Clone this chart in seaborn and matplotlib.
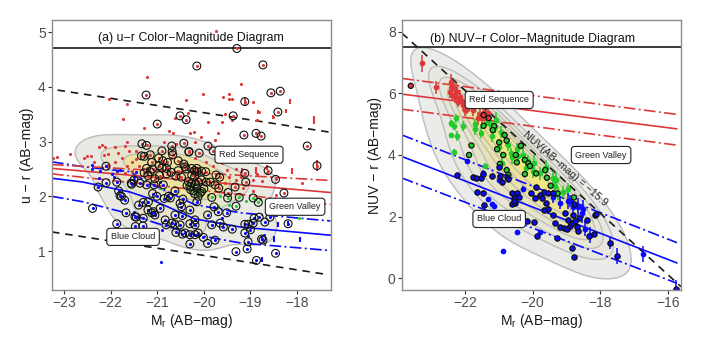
import numpy as np, pandas as pd, matplotlib
matplotlib.use("Agg")
import matplotlib.pyplot as plt
import seaborn as sns
from matplotlib.colors import LinearSegmentedColormap

sns.set_theme(style="white")
plt.rcParams['font.family'] = ['Liberation Sans', 'DejaVu Sans']
plt.rcParams['mathtext.fontset'] = 'custom'
plt.rcParams['mathtext.rm'] = 'Liberation Sans'

RED = "#dc3a3a"; BLUE = "#0a0aff"; GREEN = "#22cc2a"

# ---------- panel (a): u-r ----------
A_RING_RED = [(-20.15,4.38),(-19.29,4.70),(-18.73,4.40),(-21.24,3.85),(-18.56,3.89),(-18.36,3.92),(-19.12,3.73),
 (-18.41,3.54),(-20.51,3.47),(-20.38,3.40),(-19.37,3.47),(-21.0,3.32),(-19.14,3.12),(-18.88,3.15),(-18.77,3.10),
 (-17.78,2.92),(-17.57,2.56),(-21.33,2.96),(-21.23,2.93),(-20.69,2.92),(-20.43,2.97),(-20.68,2.82),(-20.67,2.76),
 (-20.32,2.82),(-21.34,2.74),(-21.28,2.73),(-21.15,2.76),(-20.90,2.83),(-20.97,2.70),(-20.88,2.65),(-21.12,2.62),
 (-20.55,2.65),(-20.43,2.59),(-20.40,2.54),(-20.78,2.62),(-20.96,2.56),(-20.90,2.52),(-20.80,2.51),(-21.23,2.51),
 (-21.15,2.45),(-21.28,2.43),(-20.26,2.51),(-20.80,2.41),(-20.55,2.47),(-20.26,2.39),(-20.15,2.51),(-19.91,2.92),
 (-19.80,2.83),(-20.10,2.79),(-20.32,2.81),(-18.62,2.47),(-18.46,2.31),(-19.10,2.26),(-19.33,2.17),(-19.68,2.15),
 (-19.74,2.39),(-19.66,2.35),(-19.96,2.45),(-20.15,2.45),(-18.28,2.06),(-19.86,2.26),(-19.76,2.21),(-19.48,2.07),
 (-19.12,2.42),(-20.05,2.46),(-20.20,2.47),(-20.38,2.50),(-20.60,2.37),(-20.48,2.35),(-20.95,2.38),(-21.05,2.32),
 (-21.20,2.38),(-20.70,2.44),(-21.10,2.50),(-20.20,2.36),(-20.05,2.30),(-19.95,2.26),(-20.12,2.26)]
A_RING_GREEN = [(-19.83,1.98),(-19.49,1.97),(-19.31,1.82),(-19.24,1.98),(-18.83,1.89),(-18.94,1.97),(-20.08,2.06),
 (-20.05,2.09),(-20.15,2.15),(-20.26,2.24),(-20.33,2.27),(-20.28,2.12),(-20.20,2.05),(-20.12,2.00),(-20.30,2.18),
 (-20.18,2.22),(-20.00,2.14),(-20.22,2.10),(-20.36,2.20)]
A_RING_BLUE = [(-22.39,1.78),(-22.27,2.17),(-22.10,2.25),(-22.10,2.55),(-21.87,2.26),(-21.83,2.10),(-21.80,2.01),(-21.77,2.00),
 (-21.70,1.93),(-21.67,1.70),(-21.87,1.50),(-21.48,1.63),(-21.45,1.62),(-21.30,1.60),(-21.47,1.45),(-21.31,1.46),
 (-21.56,2.24),(-21.37,2.24),(-21.23,2.21),(-21.07,2.21),(-20.87,2.21),(-21.40,1.84),(-21.30,1.89),(-21.19,1.90),
 (-21.01,2.00),(-20.76,2.00),(-20.72,1.97),(-20.94,1.78),(-21.08,1.72),(-21.05,1.66),(-20.51,1.87),(-20.48,1.81),
 (-20.62,1.66),(-20.46,1.65),(-20.83,1.57),(-20.81,1.48),(-20.69,1.51),(-20.62,1.49),(-20.51,1.48),(-20.60,1.34),
 (-20.46,1.31),(-20.40,1.33),(-20.30,1.30),(-20.19,1.30),(-20.12,1.33),(-20.01,1.25),(-20.30,1.13),(-19.92,1.14),
 (-19.76,1.20),(-20.30,1.50),(-20.19,1.57),(-20.19,1.48),(-19.83,1.48),(-19.65,1.51),(-19.58,1.44),(-19.39,1.40),
 (-19.92,1.66),(-19.78,1.81),(-19.69,1.72),(-19.51,1.70),(-19.12,1.49),(-19.05,1.49),(-18.94,1.51),(-18.92,1.60),
 (-18.81,1.62),(-18.69,1.53),(-18.58,1.62),(-18.19,1.50),(-19.00,1.39),(-19.12,1.33),(-18.76,1.22),(-18.73,1.20),
 (-19.05,1.17),(-19.07,1.04),(-19.31,0.99),(-18.87,0.83),(-18.46,0.96),(-21.55,2.22),(-21.5,2.30),(-21.1,2.05),
 (-20.85,1.96),(-20.62,2.10),(-20.45,1.95),(-21.20,1.75),(-21.12,1.70),(-20.3,1.75),(-20.15,1.9)]
A_DOT_RED = [(-19.74,5.02),(-21.22,4.18),(-19.20,4.05),(-20.02,3.87),(-19.59,3.81),(-19.46,3.86),(-19.46,3.78),
 (-19.40,3.78),(-18.95,3.72),(-20.38,3.76),(-21.65,3.69),(-22.04,3.78),(-21.73,3.41),(-21.28,3.25),(-20.33,3.52),
 (-20.62,3.43),(-19.91,3.36),(-19.61,3.36),(-19.55,3.50),(-19.40,3.40),(-18.85,3.40),(-18.81,3.54),(-18.52,3.45),
 (-20.75,3.19),(-20.67,3.16),(-20.30,3.16),(-20.22,3.17),(-21.65,3.00),(-19.69,3.15),(-19.76,3.03),(-20.05,3.08),
 (-23.24,2.70),(-23.15,2.72),(-22.87,2.77),(-22.57,2.70),(-22.50,2.74),(-22.42,2.73),(-22.26,2.91),(-22.19,2.93),
 (-22.12,2.91),(-21.90,2.91),(-21.70,2.92),(-22.35,2.62),(-22.15,2.75),(-22.05,2.78),(-21.85,2.80),(-21.75,2.70),
 (-21.60,2.82),(-21.55,2.62),(-21.45,2.68),(-21.90,2.62),(-22.05,2.58),(-21.65,2.55),(-21.40,2.55),(-21.45,2.82),
 (-20.85,3.00),(-20.6,2.95),(-20.2,3.0),(-19.95,2.62),(-19.8,2.55),(-19.6,2.60),(-19.5,2.48),(-19.3,2.50),
 (-19.45,2.35),(-19.3,2.30),(-19.15,2.15),(-18.95,2.30),(-18.75,2.28),(-18.95,2.10),(-19.55,2.25),(-19.2,2.35),
 (-18.45,2.02),(-18.1,1.96),(-17.9,2.25),(-18.85,2.40),(-18.65,2.42),(-20.7,2.7),(-20.2,2.7),(-21.7,2.42),(-21.55,2.46)]
A_DOT_BLUE = [(-20.91,0.80),(-22.41,2.57),(-22.41,2.50),(-22.24,2.47),(-21.98,2.40),(-21.87,2.47),(-21.80,2.48),(-21.93,2.36),
 (-22.26,2.33),(-21.45,2.45),(-21.50,2.36),(-20.95,2.27),(-21.2,1.75),(-19.6,1.60),(-18.7,1.30),(-19.05,1.27),(-21.5,1.72),(-20.9,1.38)]
A_DOT_GREEN = [(-19.65,2.0),(-19.45,1.85),(-19.7,1.83),(-19.9,2.02),(-20.6,2.1),(-20.95,2.15),(-17.95,1.60),(-18.8,1.95),(-19.1,1.92)]
A_ERR_RED = [(-17.63,3.40,0.07),(-18.15,3.73,0.05),(-18.24,3.56,0.04),(-18.52,3.45,0.04),(-18.84,3.54,0.04),(-18.1,2.46,0.05),(-18.87,2.47,0.06),
 (-19.18,2.47,0.05),(-18.65,2.53,0.05),(-17.57,2.56,0.10),(-19.12,3.73,0.06)]
A_ERR_BLUE = [(-18.40,1.49,0.05),(-18.49,1.22,0.05),(-17.94,1.21,0.05),(-18.75,0.85,0.05),(-18.19,1.50,0.05),(-18.76,1.22,0.04)]

A_BLUE_X = [-23.26,-22.59,-21.59,-21.2,-20.2,-19.22,-17.28]
A_BLUE_Y = [2.33,2.26,2.08,1.97,1.59,1.44,1.29]
A_BLUE_UP_Y = [2.63,2.54,2.45,2.26,1.85,1.70,1.55]
A_BLUE_LO_Y = [2.00,1.90,1.68,1.56,1.30,1.15,1.01]
A_RED_X = [-23.26,-17.28]
A_RED_Y = [2.51,2.07]
A_RED_UP_Y = [2.58,2.29]
A_RED_LO_Y = [2.41,1.85]
A_DASH_TOP_X = [-23.14,-17.28]; A_DASH_TOP_Y = [3.94,3.17]
A_DASH_BOT_X = [-23.26,-17.33]; A_DASH_BOT_Y = [1.35,0.57]

# ---------- panel (b): NUV-r  (x, y, err) ----------
B_RED = [(-23.27,6.98,0.27),(-22.86,6.20,0.22),(-22.40,6.39,0.25),(-22.38,6.22,0.25),(-22.45,6.06,0.2),(-22.30,6.14,0.2),
 (-22.37,5.95,0.2),(-22.25,6.06,0.25),(-22.30,5.90,0.2),(-22.15,5.90,0.2),(-22.2,5.73,0.18),(-22.05,5.63,0.2),
 (-22.0,5.46,0.2),(-21.76,5.46,0.18),(-21.9,5.63,0.2),(-21.71,5.84,0.15),(-21.56,5.30,0.2),(-21.44,5.41,0.2),
 (-21.51,5.19,0.15),(-21.61,5.19,0.2),(-21.31,5.36,0.2),(-22.1,5.75,0.2),(-21.95,5.5,0.18),(-21.4,5.2,0.18)]
B_GREEN = [(-22.27,5.19,0.15),(-22.40,5.03,0.12),(-22.33,4.94,0.12),(-22.07,4.94,0.17),(-22.42,4.65,0.08),(-22.24,4.62,0.15),
 (-22.31,4.11,0.08),(-21.70,5.0,0.18),(-21.71,4.84,0.2),(-21.52,4.73,0.18),(-21.36,5.08,0.15),(-21.26,5.02,0.2),
 (-21.07,5.14,0.25),(-21.16,4.81,0.2),(-21.12,4.9,0.2),(-21.19,4.62,0.2),(-20.95,4.75,0.2),(-20.72,4.32,0.2),
 (-20.65,4.05,0.18),(-20.45,4.18,0.2),(-20.3,4.0,0.25),(-20.6,3.92,0.2),(-20.44,3.97,0.2),(-20.2,3.57,0.25),(-20.0,3.49,0.25),
 (-19.78,3.40,0.2),(-19.39,3.24,0.25),(-19.35,3.0,0.2),(-19.24,2.75,0.2),(-19.1,2.8,0.2),(-18.95,2.9,0.2),(-19.3,3.2,0.2),
 (-21.41,3.65,0.1),(-20.9,3.75,0.2),(-20.15,3.8,0.2),(-19.95,3.75,0.25),(-19.6,3.6,0.25),(-20.8,4.5,0.2),(-21.0,4.25,0.2)]
B_RING_GREEN = [(-21.81,4.31,0),(-21.88,4.0,0),(-21.45,4.95,0),(-21.14,4.94,0),(-21.18,4.81,0),(-20.83,4.65,0),(-20.77,4.47,0),
 (-20.99,4.41,0),(-21.05,4.19,0),(-20.87,4.0,0),(-20.5,4.0,0),(-20.35,4.3,0),(-20.23,3.84,0),(-20.13,3.73,0),
 (-20.08,3.64,0),(-20.97,3.71,0),(-20.47,3.76,0),(-20.77,3.51,0),(-20.72,3.35,0),(-20.23,3.38,0),(-19.63,3.51,0),
 (-19.9,3.4,0),(-19.58,3.26,0),(-19.47,3.0,0),(-19.27,2.75,0),(-18.78,2.62,0),(-21.3,5.2,0),(-21.45,5.3,0),(-23.6,6.25,0)]
B_RING_GREEN_COL = [GREEN]*26 + [RED]*3
B_RING_BLUE = [(-22.25,3.35,0),(-21.77,3.27,0),(-21.68,3.25,0),(-21.54,3.24,0),(-21.46,3.38,0),(-21.21,3.32,0),(-20.97,3.33,0),
 (-20.77,3.30,0),(-20.72,3.22,0),(-21.64,2.81,0),(-21.48,2.78,0),(-20.92,3.13,0),(-21.43,2.37,0),(-20.62,2.75,0),
 (-20.45,2.75,0),(-20.55,2.6,0),(-20.4,2.65,0),(-20.62,2.40,0),(-20.52,2.43,0),(-20.16,1.87,0),(-19.96,1.83,0),
 (-19.88,1.37,0),(-19.27,1.29,0),(-18.83,0.99,0),(-18.78,0.67,0),(-20.06,2.75,0),(-19.93,2.59,0),(-19.78,2.70,0),
 (-19.68,2.81,0),(-19.55,2.75,0),(-19.39,2.75,0),(-19.73,2.59,0),(-19.6,2.43,0),(-19.55,2.25,0),(-19.66,2.22,0),
 (-19.41,2.05,0),(-19.34,1.78,0),(-19.19,1.67,0),(-19.07,1.63,0),(-19.0,1.58,0),(-18.91,1.69,0),(-19.04,2.10,0),
 (-18.82,2.05,0),(-18.63,1.94,0),(-18.68,1.67,0),(-18.67,1.53,0),(-18.35,1.38,0),(-18.2,1.43,0),(-18.40,1.89,0),
 (-18.16,2.05,0),(-18.12,2.09,0),(-18.78,2.4,0),(-17.71,1.13,0.2),(-17.51,0.72,0.25),(-21.0,3.6,0),(-20.55,2.5,0),
 (-19.9,2.95,0),(-18.85,1.8,0),(-18.75,1.85,0),(-18.95,1.9,0),(-15.77,-0.35,0.3)]
B_BLUE = [(-21.95,3.81,0.05),(-21.46,3.43,0.08),(-21.33,2.56,0.05),(-21.21,2.41,0.05),(-21.15,2.35,0.05),(-20.45,1.51,0.05),(-20.89,0.88,0.05),
 (-19.78,1.51,0.05),(-19.39,2.65,0.2),(-18.97,2.5,0.25),(-18.8,2.3,0.25),(-18.65,2.3,0.3),(-18.5,2.25,0.3),(-18.55,2.1,0.3),
 (-18.45,1.6,0.25),(-18.3,1.4,0.25),(-16.74,0.78,0.25),(-19.2,2.45,0.2),(-21.0,3.2,0.06),(-20.3,2.9,0.1),(-18.9,2.5,0.2)]

B_X = [-23.86,-15.74]
B_RED_Y = [5.98,4.85]; B_RED_UP_Y = [6.49,5.32]; B_RED_LO_Y = [5.49,4.32]
B_BLUE_Y = [3.95,0.49]; B_BLUE_UP_Y = [4.65,1.15]; B_BLUE_LO_Y = [3.25,-0.17]
B_DASH_X = [-23.86,-15.62]; B_DASH_Y = [7.96,-0.28]

A_LABELS = [("Red Sequence",-19.03,2.76),("Green Valley",-18.04,1.81),("Blue Cloud",-21.52,1.26)]
B_LABELS = [("Red Sequence",-20.99,5.79),("Green Valley",-17.98,4.0),("Blue Cloud",-20.99,1.92)]

fig = plt.figure(figsize=(7.02,3.37), dpi=100)
axA = fig.add_axes([52/702, 1-290/337, 278.5/702, 270/337])
axB = fig.add_axes([402/702, 1-290/337, 279/702, 270/337])

CM = LinearSegmentedColormap.from_list("k",["#ededed","#e6e6dc","#e8e2b4","#f3e67c"])
def kde(ax, pts, levels, bw, thresh):
    df = pd.DataFrame(pts, columns=["x","y"])
    sns.kdeplot(data=df,x="x",y="y",ax=ax,fill=True,cmap=CM,levels=levels,thresh=thresh,bw_adjust=bw,zorder=1)
    sns.kdeplot(data=df,x="x",y="y",ax=ax,color="#bdbdbd",levels=levels,thresh=thresh,bw_adjust=bw,linewidths=1.0,zorder=1.5)

def line(ax,x,y,c,ls,lw=1.2,z=2):
    sns.lineplot(x=x,y=y,ax=ax,color=c,lw=lw,zorder=z,sort=False,errorbar=None,estimator=None)
    ax.lines[-1].set_linestyle(ls)

DD = (0,(7,2,1.2,2)); DASH=(0,(4.5,3.5))
ax = axA
a_all = np.array(A_RING_RED+A_RING_GREEN+A_RING_BLUE+A_DOT_RED)
a_core = a_all[(a_all[:,1]<3.0)&(a_all[:,1]>1.1)&(a_all[:,0]>-22.8)&(a_all[:,0]<-18.5)]
kde(ax, a_core, 4, 1.05, 0.10)
line(ax,A_BLUE_X,A_BLUE_Y,BLUE,'-')
line(ax,A_BLUE_X,A_BLUE_UP_Y,BLUE,DD)
line(ax,A_BLUE_X,A_BLUE_LO_Y,BLUE,DD)
line(ax,A_RED_X,A_RED_Y,RED,'-')
line(ax,A_RED_X,A_RED_UP_Y,RED,DD)
line(ax,A_RED_X,A_RED_LO_Y,RED,DD)
line(ax,A_DASH_TOP_X,A_DASH_TOP_Y,'k',DASH)
line(ax,A_DASH_BOT_X,A_DASH_BOT_Y,'k',DASH)
ax.axhline(4.70,color='k',lw=1.2,zorder=3)

def dots(ax,pts,c,s=5):
    a=np.array(pts)
    sns.scatterplot(x=a[:,0],y=a[:,1],ax=ax,color=c,s=s,linewidth=0,zorder=4)
def rings(ax,pts,s=32,lw=0.8):
    a=np.array(pts)
    sns.scatterplot(x=a[:,0],y=a[:,1],ax=ax,facecolor='none',edgecolor='#111111',s=s,linewidth=lw,zorder=5)
for pts,c in [(A_DOT_RED,RED),(A_DOT_BLUE,BLUE),(A_DOT_GREEN,GREEN),(A_RING_RED,RED),(A_RING_GREEN,GREEN),(A_RING_BLUE,BLUE)]:
    dots(ax,pts,c,5)
for pts,c in [(A_ERR_RED,RED),(A_ERR_BLUE,BLUE)]:
    a=np.array(pts)
    ax.errorbar(a[:,0],a[:,1],yerr=a[:,2],fmt='none',ecolor=c,elinewidth=1.5,zorder=4)
rings(ax,A_RING_RED); rings(ax,A_RING_GREEN); rings(ax,A_RING_BLUE)

ax = axB
b_all = np.array([p[:2] for p in B_RED+B_GREEN+B_RING_GREEN+B_RING_BLUE+B_BLUE])
b_core = b_all[(b_all[:,0]>-22.6)&(b_all[:,0]<-18.0)]
kde(ax, b_core, 9, 1.6, 0.06)
for y,c,ls in [(B_RED_Y,RED,'-'),(B_RED_UP_Y,RED,DD),(B_RED_LO_Y,RED,DD),(B_BLUE_Y,BLUE,'-'),(B_BLUE_UP_Y,BLUE,DD),(B_BLUE_LO_Y,BLUE,DD)]:
    line(ax,B_X,y,c,ls)
line(ax,B_DASH_X,B_DASH_Y,'k',DASH)
ax.axhline(7.5,color='k',lw=1.2,zorder=3)
for pts,c in [(B_RED,RED),(B_GREEN,GREEN),(B_BLUE,BLUE),(B_RING_BLUE,BLUE)]:
    a=np.array(pts)
    ax.errorbar(a[:,0],a[:,1],yerr=a[:,2],fmt='none',ecolor=c,elinewidth=1.1,zorder=4)
    dots(ax,[p[:2] for p in pts],c,17)
a=np.array(B_RING_GREEN)
sns.scatterplot(x=a[:,0],y=a[:,1],ax=ax,hue=list(range(len(a))),palette=B_RING_GREEN_COL,legend=False,s=14,edgecolor='#111111',linewidth=0.9,zorder=5)
a=np.array(B_RING_BLUE)
sns.scatterplot(x=a[:,0],y=a[:,1],ax=ax,color=BLUE,s=14,edgecolor='#111111',linewidth=0.9,zorder=5)

ax.text(-19.04,3.56,"NUV(AB−mag) = −15.9",rotation=-41,ha='center',va='center',fontsize=7.6,rotation_mode='anchor',zorder=6)

for ax,title,xl,yl,xt,yt,yname,labels,tx,ty,ylp in [
    (axA,"(a) u−r Color−Magnitude Diagram",(-23.26,-17.28),(0.29,5.22),[-23,-22,-21,-20,-19,-18],[1,2,3,4,5],"u − r (AB−mag)",A_LABELS,-20.27,4.9,2.5),
    (axB,"(b) NUV−r Color−Magnitude Diagram",(-23.86,-15.62),(-0.39,8.39),[-22,-20,-18,-16],[0,2,4,6,8],"NUV − r (AB−mag)",B_LABELS,-20.0,7.78,4.5)]:
    ax.set_xlim(*xl); ax.set_ylim(*yl)
    ax.set_xticks(xt); ax.set_yticks(yt)
    ax.set_xticklabels([f"−{abs(v)}" for v in xt])
    ax.set_xlabel(r"M$_{\mathrm{r}}$ (AB−mag)",fontsize=10,labelpad=1.5,color='k')
    ax.set_ylabel(yname,fontsize=10,labelpad=ylp,color='k')
    ax.tick_params(axis='both',length=3,width=0.8,color='#333333',labelcolor='#4d4d4d',labelsize=10,pad=1.5,left=True,bottom=True)
    for s in ax.spines.values():
        s.set_color('#8c8c8c'); s.set_linewidth(1.0); s.set_zorder(7)
    ax.text(tx,ty,title,ha='center',va='center',fontsize=8.9,color='#111111',zorder=6)
    for t,x,y in labels:
        ax.text(x,y,t,ha='center',va='center',fontsize=6.5,color='#222222',zorder=8,
                bbox=dict(boxstyle='round,pad=0.45,rounding_size=0.35',fc='white',ec='#222222',lw=0.8))
fig.savefig("out.png",dpi=100)
